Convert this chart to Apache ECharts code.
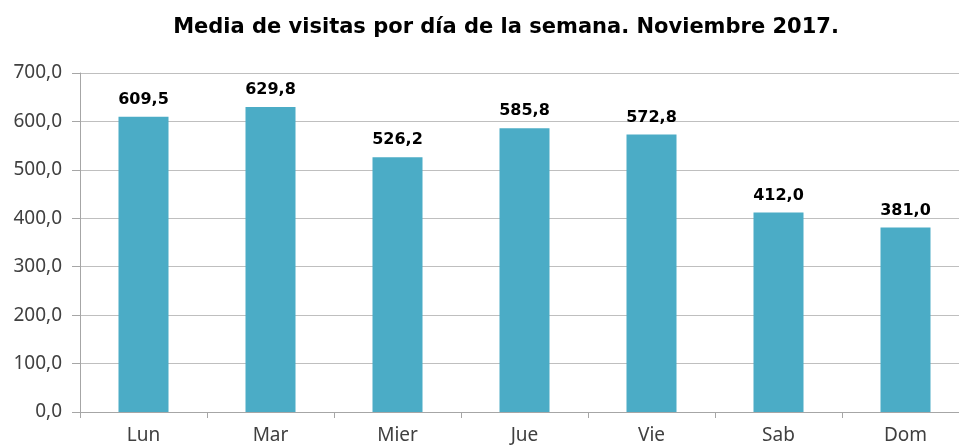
<!DOCTYPE html>
<html>
<head>
<meta charset="utf-8">
<script src="https://cdn.jsdelivr.net/npm/echarts@6/dist/echarts.min.js"></script>
<style>
  html, body { margin: 0; padding: 0; background: #fff; }
  #chart { width: 959px; height: 446px; }
</style>
</head>
<body>
<div id="chart"></div>
<script>
const dias = ['Lun', 'Mar', 'Mier', 'Jue', 'Vie', 'Sab', 'Dom'];
const visitas = [609.5, 629.8, 526.2, 585.8, 572.8, 412.0, 381.0];
const titulo = 'Media de visitas por día de la semana. Noviembre 2017.';

// formato con coma decimal
const fmt = v => Number(v).toFixed(1).replace('.', ',');

const chart = echarts.init(document.getElementById('chart'));
chart.setOption({
  animation: false,
  title: {
    text: titulo,
    left: 501,
    textAlign: 'center',
    top: 12,
    textStyle: { fontFamily: 'DejaVu Sans', fontWeight: 'bold', fontSize: 21, color: '#000' }
  },
  // el área de trazado sobrepasa el borde derecho, como en el original
  grid: { left: 80, top: 73, width: 889, height: 339, outerBoundsMode: 'none' },
  xAxis: {
    type: 'category',
    data: dias,
    axisLine: { lineStyle: { color: '#a6a6a6' } },
    axisTick: { show: true, length: 6, lineStyle: { color: '#a6a6a6' } },
    axisLabel: { color: '#404040', fontFamily: 'Noto Sans', fontSize: 19, margin: 14 }
  },
  yAxis: {
    type: 'value',
    min: 0,
    max: 700,
    interval: 100,
    axisLine: { show: true, lineStyle: { color: '#a6a6a6' } },
    axisTick: { show: true, length: 8, lineStyle: { color: '#a6a6a6' } },
    splitLine: { lineStyle: { color: '#bfbfbf' } },
    axisLabel: { color: '#404040', fontFamily: 'Noto Sans', fontSize: 19, margin: 18, formatter: fmt }
  },
  series: [{
    type: 'bar',
    data: visitas,
    barWidth: 50,
    itemStyle: { color: '#4bacc6' },
    label: {
      show: true,
      position: 'top',
      distance: 9,
      formatter: p => fmt(p.value),
      fontFamily: 'DejaVu Sans',
      fontWeight: 'bold',
      fontSize: 16,
      color: '#000'
    }
  }]
});
</script>
</body>
</html>
